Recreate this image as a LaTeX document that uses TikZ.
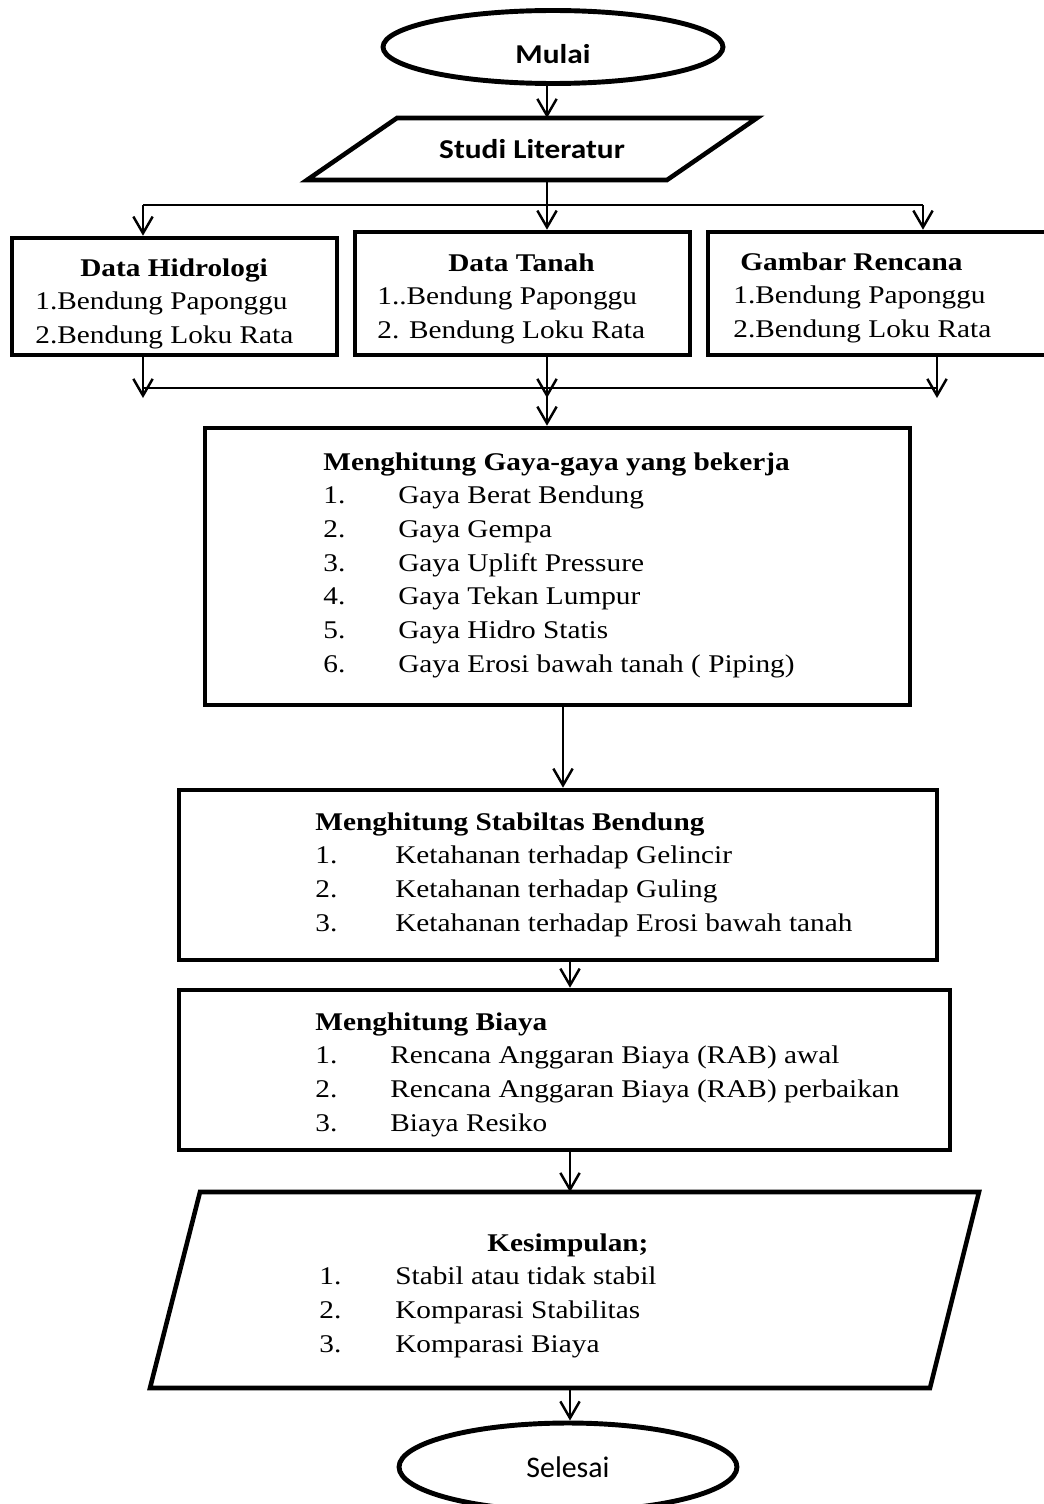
\documentclass[tikz,border=0pt]{standalone}
\usepackage{fontspec}
\setmainfont[FakeStretch=1.15]{Liberation Serif}
\newfontfamily\calib[FakeStretch=1.15]{Carlito}
\newfontfamily\calibplain{Carlito}
\usetikzlibrary{shapes.geometric,arrows.meta}

\tikzset{
	box/.style={draw, line width=2.6pt, rectangle, inner sep=0pt},
	term/.style={draw, line width=2.8pt, ellipse, inner sep=0pt},
	io/.style={line width=2.6pt},
	txt/.style={anchor=base west, inner sep=0pt, font=\fontsize{14.5}{19.2}\selectfont},
	line/.style={line width=1.4pt},
	arr/.style={line width=1.4pt, -{Straight Barb[length=9.5pt,width=11pt,line width=1.4pt]}},
}

\begin{document}
\begin{tikzpicture}[x=0.02cm,y=-0.02cm]
	\useasboundingbox (0,0) rectangle (1044,1504);
	\clip (0,0) rectangle (1044,1504);
	% start
	\node[term, minimum width=6.8cm, minimum height=1.46cm, text height=19pt, text depth=0pt, font=\calib\bfseries\fontsize{15.5}{18}\selectfont] (mulai) at (553,47) {Mulai};
	\draw[io] (397,118) -- (757,118) -- (667,180) -- (307,180) -- cycle;
	\node[font=\calib\bfseries\fontsize{15.5}{18}\selectfont] (studi) at (532,149) {Studi Literatur};
	\coordinate (studiN) at (547,118);
	\coordinate (studiS) at (547,180);
	\draw[arr] (studiN |- mulai.south) -- (studiN);
	% data
	\node[box, minimum width=6.5cm, minimum height=2.34cm] (hidro) at (174.5,296.5) {};
	\node[box, minimum width=6.7cm, minimum height=2.46cm] (tanah) at (522.5,293.5) {};
	\node[box, minimum width=7.24cm, minimum height=2.46cm] (gambar) at (889,293.5) {};
	\node[txt] (hidroTxt) at (35,276) {\begin{tabular}[t]{@{}l@{}}\hspace*{0.9cm}\textbf{Data Hidrologi}\\1.Bendung Paponggu\\2.Bendung Loku Rata\end{tabular}};
	\node[txt] (tanahTxt) at (377,271) {\begin{tabular}[t]{@{}l@{}}\hspace*{1.42cm}\textbf{Data Tanah}\\1..Bendung Paponggu\\2. Bendung Loku Rata\end{tabular}};
	\node[txt] (gambarTxt) at (733,270) {\begin{tabular}[t]{@{}l@{}}\hspace*{0.14cm}\textbf{Gambar Rencana}\\1.Bendung Paponggu\\2.Bendung Loku Rata\end{tabular}};
	\coordinate (sL) at (143,205);
	\coordinate (sC) at (547,205);
	\coordinate (sR) at (923,205);
	\draw[line] (sL) -- (sR);
	\draw[arr] (studiS) -- (tanah.north -| sC);
	\draw[arr] (sL) -- (hidro.north -| sL);
	\draw[arr] (sR) -- (gambar.north -| sR);
	\coordinate (mL) at (143,388);
	\coordinate (mC) at (547,388);
	\coordinate (mR) at (937,388);
	\coordinate (eL) at (143,398);
	\coordinate (eC) at (547,398);
	\coordinate (eR) at (937,398);
	\draw[line] (mL) -- (mR);
	\draw[arr] (hidro.south -| eL) -- (eL);
	\draw[arr] (tanah.south -| eC) -- (eC);
	\draw[arr] (gambar.south -| eR) -- (eR);
	% gaya
	\node[box, minimum width=14.1cm, minimum height=5.54cm] (gaya) at (557.5,566.5) {};
	\node[txt] (gayaTxt) at (323,470) {\begin{tabular}[t]{@{}p{1.5cm}@{}l@{}}
		\multicolumn{2}{@{}l@{}}{\textbf{Menghitung Gaya-gaya yang bekerja}}\\
		1. & Gaya Berat Bendung\\
		2. & Gaya Gempa\\
		3. & Gaya Uplift Pressure\\
		4. & Gaya Tekan Lumpur\\
		5. & Gaya Hidro Statis\\
		6. & Gaya Erosi bawah tanah ( Piping)
	\end{tabular}};
	\draw[arr] (mC) -- (gaya.north -| mC);
	% stabilitas
	\node[box, minimum width=15.16cm, minimum height=3.4cm] (stabil) at (558,875) {};
	\node[txt] (stabilTxt) at (315,830) {\begin{tabular}[t]{@{}p{1.6cm}@{}l@{}}
		\multicolumn{2}{@{}l@{}}{\textbf{Menghitung Stabiltas Bendung}}\\
		1. & Ketahanan terhadap Gelincir\\
		2. & Ketahanan terhadap Guling\\
		3. & Ketahanan terhadap Erosi bawah tanah
	\end{tabular}};
	\coordinate (gS) at (563,705);
	\draw[arr] (gS) -- (stabil.north -| gS);
	% biaya
	\node[box, minimum width=15.42cm, minimum height=3.2cm] (biaya) at (564.5,1070) {};
	\node[txt] (biayaTxt) at (315,1030) {\begin{tabular}[t]{@{}p{1.5cm}@{}l@{}}
		\multicolumn{2}{@{}l@{}}{\textbf{Menghitung Biaya}}\\
		1. & Rencana Anggaran Biaya (RAB) awal\\
		2. & Rencana Anggaran Biaya (RAB) perbaikan\\
		3. & Biaya Resiko
	\end{tabular}};
	% kesimpulan
	\draw[io] (200,1192) -- (979,1192) -- (930,1388) -- (150,1388) -- cycle;
	\coordinate (kesimN) at (570,1192);
	\coordinate (kesimS) at (570,1388);
	\node[txt] (kesimTxt) at (319,1251) {\begin{tabular}[t]{@{}p{1.52cm}@{}l@{}}
		\multicolumn{2}{@{}l@{}}{\hspace*{3.36cm}\textbf{Kesimpulan;}}\\
		1. & Stabil atau tidak stabil\\
		2. & Komparasi Stabilitas\\
		3. & Komparasi Biaya
	\end{tabular}};
	\draw[arr] (stabil.south -| kesimN) -- (biaya.north -| kesimN);
	\draw[arr] (biaya.south -| kesimN) -- (kesimN);
	% end
	\node[term, minimum width=6.76cm, minimum height=1.76cm, font=\calibplain\fontsize{17}{20}\selectfont] (selesai) at (568,1467) {Selesai};
	\draw[arr] (kesimS) -- (kesimS |- selesai.north);
\end{tikzpicture}
\end{document}
